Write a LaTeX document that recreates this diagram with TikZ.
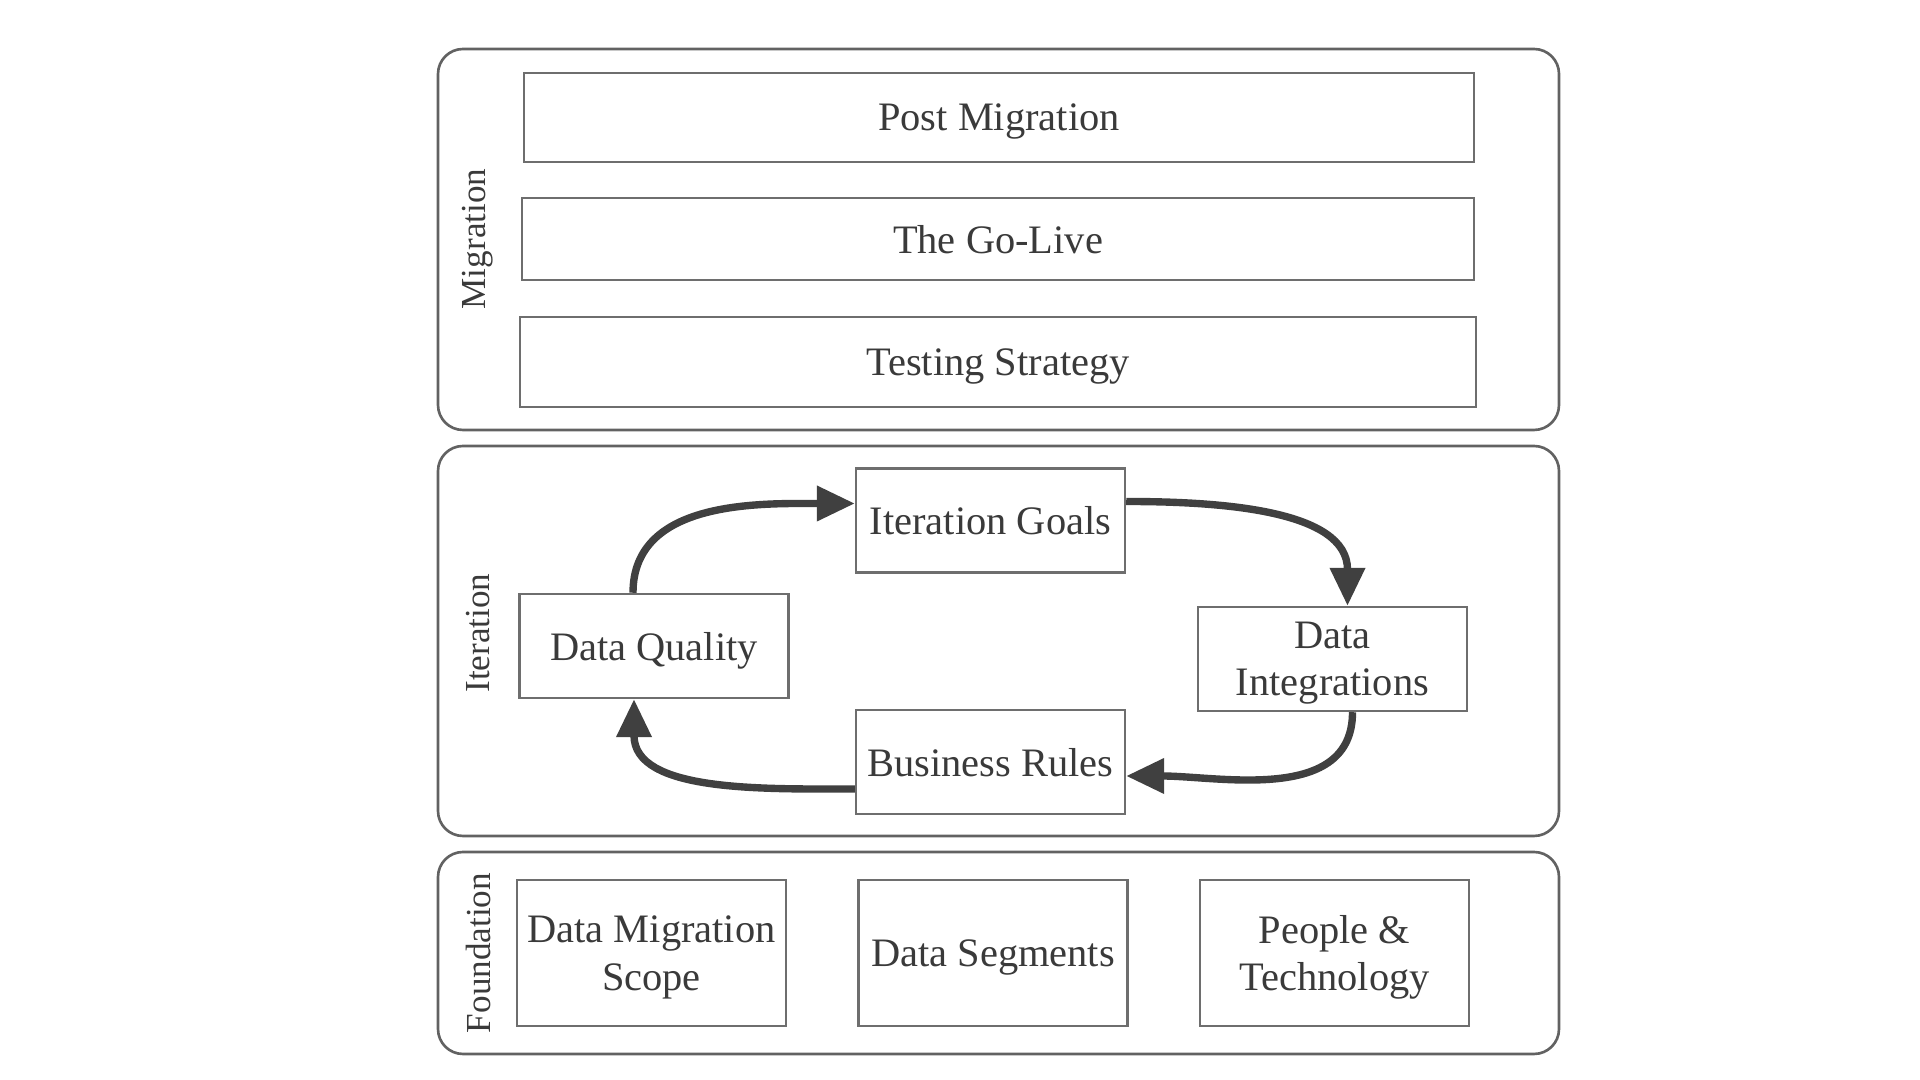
\documentclass[tikz,border=0pt]{standalone}
\usepackage{fontspec}
\setmainfont{Liberation Serif}
\usepackage{tikz}
\usetikzlibrary{arrows.meta,positioning,calc}
\definecolor{dmtext}{HTML}{3A3A3A}
\definecolor{dmframe}{HTML}{626262}
\definecolor{dmbox}{HTML}{6E6E6E}
\definecolor{dmarrow}{HTML}{404040}

\tikzset{
  panel/.style={rounded corners=0.25cm,draw=dmframe,line width=0.75pt},
  stagebox/.style={draw=dmbox,line width=0.7pt,fill=white,text=dmtext,
    font=\fontsize{11.5}{13.5}\selectfont,align=center,inner sep=0pt,
    text depth=0pt},
  sidelabel/.style={rotate=90,text=dmtext,font=\fontsize{10}{12}\selectfont},
  cycarrow/.style={draw=dmarrow,line width=2.1pt,
    -{Triangle[length=0.38cm,width=0.34cm]}}
}

\begin{document}
\begin{tikzpicture}
        \useasboundingbox (0,0) rectangle (19.2,10.8);

        % Panels
        \draw[panel] (4.38,6.50) rectangle (15.59,10.31);
        \draw[panel] (4.38,2.44) rectangle (15.59,6.34);
        \draw[panel] (4.38,0.26) rectangle (15.59,2.28);

        % Panel labels
        \node[sidelabel] (migLabel) at (4.78,8.41) {Migration};
        \node[sidelabel] (itrLabel) at (4.78,4.47) {Iteration};
        \node[sidelabel] (fndLabel) at (4.78,1.27) {Foundation};

        % Migration stages
        \node[stagebox,minimum width=9.50cm,minimum height=0.89cm]
          (post) at (9.99,9.625) {Post Migration};
        \node[stagebox,minimum width=9.52cm,minimum height=0.82cm]
          (golive) at (9.98,8.41) {The Go-Live};
        \node[stagebox,minimum width=9.56cm,minimum height=0.90cm]
          (testing) at (9.98,7.18) {Testing Strategy};

        % Iteration cycle
        \node[stagebox,minimum width=2.69cm,minimum height=1.04cm]
          (goals) at (9.905,5.595) {Iteration Goals};
        \node[stagebox,minimum width=2.69cm,minimum height=1.04cm]
          (quality) at (6.54,4.34) {Data Quality};
        \node[stagebox,minimum width=2.69cm,minimum height=1.04cm]
          (integr) at (13.325,4.21) {Data\\Integrations};
        \node[stagebox,minimum width=2.69cm,minimum height=1.04cm]
          (rules) at (9.905,3.18) {Business Rules};

        \draw[cycarrow] ([xshift=-0.21cm]quality.north)
          to[out=90,in=180] ([yshift=0.17cm]goals.west);
        \draw[cycarrow] ([yshift=0.19cm]goals.east)
          to[out=0,in=90] ([xshift=0.15cm]integr.north);
        \draw[cycarrow] ([xshift=0.20cm]integr.south)
          to[out=-90,in=0] ([yshift=-0.14cm]rules.east);
        \draw[cycarrow] ([yshift=-0.27cm]rules.west)
          to[out=180,in=-90] ([xshift=-0.20cm]quality.south);

        % Foundation
        \node[stagebox,minimum width=2.69cm,minimum height=1.46cm]
          (scope) at (6.515,1.27) {Data Migration\\Scope};
        \node[stagebox,minimum width=2.69cm,minimum height=1.46cm]
          (segments) at (9.93,1.27) {Data Segments};
        \node[stagebox,minimum width=2.69cm,minimum height=1.46cm]
          (people) at (13.345,1.27) {People \&\\Technology};
\end{tikzpicture}
\end{document}
